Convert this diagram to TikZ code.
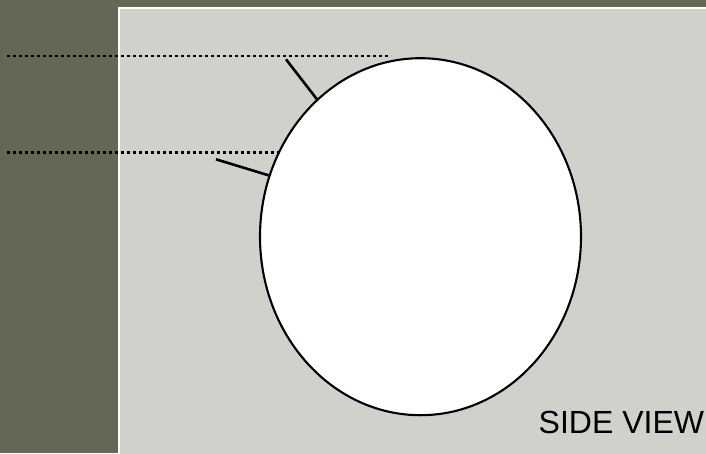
\documentclass[tikz,border=0pt]{standalone}
\usepackage{fontspec}
\setmainfont{Liberation Sans}
\definecolor{bgdark}{HTML}{666657}
\definecolor{panelgrey}{HTML}{D0D1CB}
\tikzset{
  dotline/.style={line width=2.9pt, dash pattern=on 2.8pt off 3.2pt, black},
  tick/.style={line width=2.6pt, black},
  eyeshape/.style={ellipse, draw=black, line width=2.1pt, fill=white, inner sep=0pt,
    minimum width=321pt, minimum height=357pt},
  caption/.style={font=\fontsize{32pt}{36pt}\selectfont, inner sep=0pt, text=black}
}
\usetikzlibrary{shapes.geometric}
\begin{document}
\begin{tikzpicture}[x=1pt,y=-1pt]
\useasboundingbox (0,0) rectangle (706,453);
\fill[bgdark] (0,0) rectangle (706,453);
\filldraw[fill=panelgrey, draw=white, line width=1.6pt] (118.8,7.8) rectangle (715,465);
\coordinate (d1s) at (7,56);
\coordinate (d1e) at (391,56);
\coordinate (d2s) at (7,152.3);
\coordinate (d2e) at (279,152.3);
\coordinate (t1) at (286,59.3);
\coordinate (t2) at (216,159.3);
\node[eyeshape] (eye) at (420.5,236.7) {};
\draw[dotline] (d1s) -- (d1e);
\draw[dotline] (d2s) -- (d2e);
\draw[tick] (t1) -- (eye.127.6);
\draw[tick] (t2) -- (eye.158.7);
\node[caption, anchor=base west] (cap) at (538.5,433.3) {SIDE VIEW};
\end{tikzpicture}
\end{document}
